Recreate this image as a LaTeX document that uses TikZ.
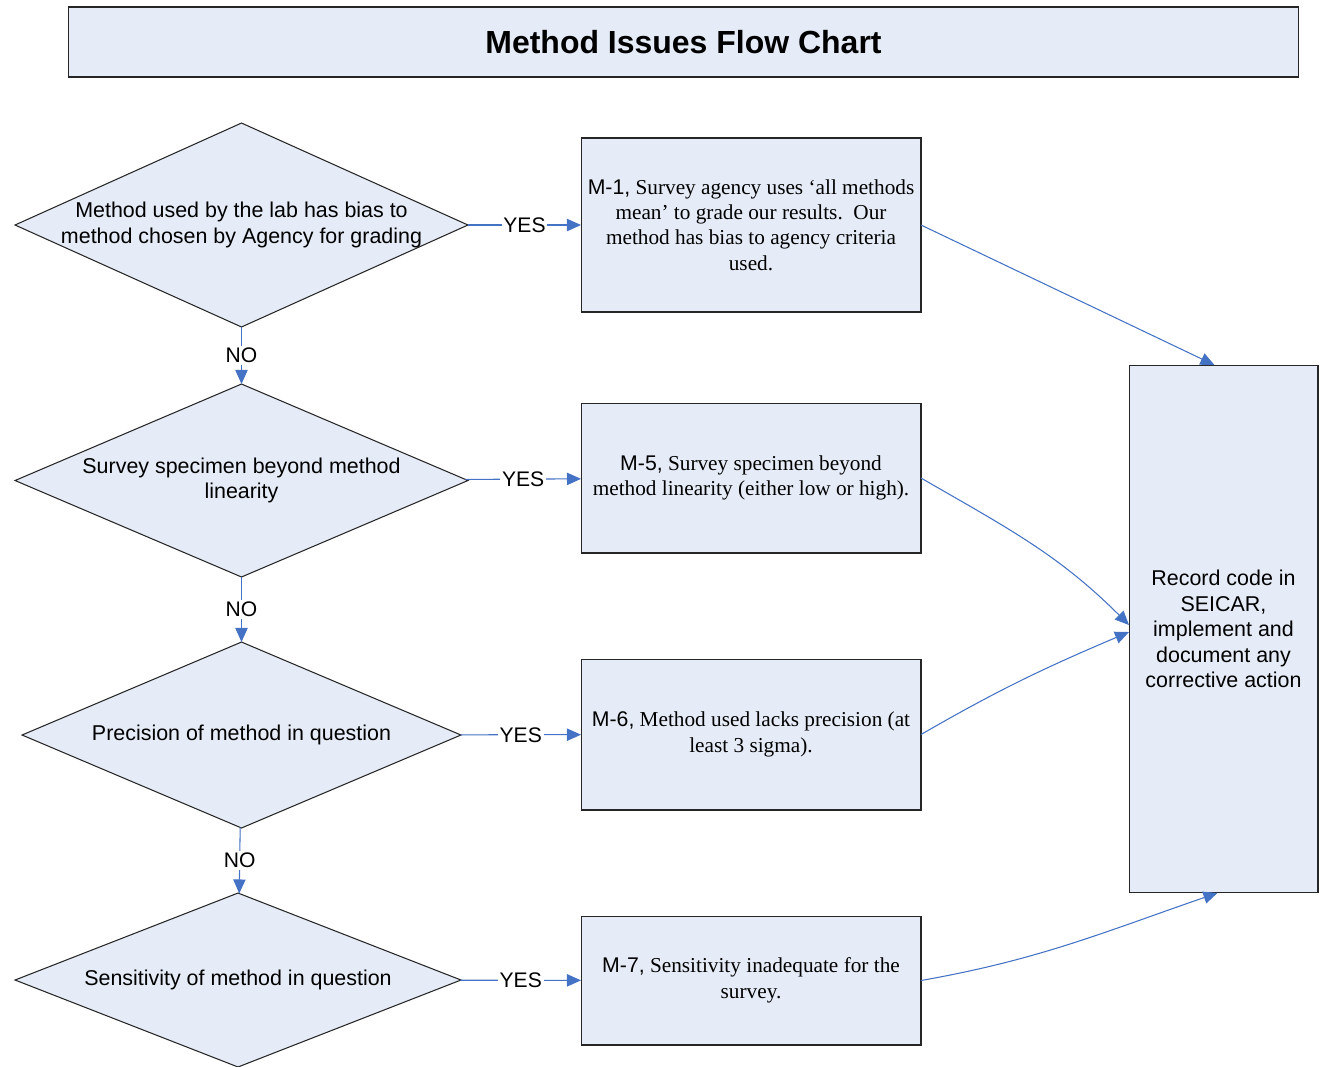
\documentclass[tikz,border=0pt]{standalone}
\usepackage{fontspec}
\setmainfont{Liberation Serif}
\setsansfont{Liberation Sans}
\usetikzlibrary{shapes.geometric,arrows.meta,calc}
\definecolor{boxfill}{RGB}{230,236,247}
\definecolor{linkblue}{RGB}{68,114,196}
\tikzset{
  question/.style={diamond,draw=black!85,fill=boxfill,line width=0.6pt,inner sep=0pt,outer sep=0pt,
    aspect=2.3,align=center,font=\sffamily\fontsize{12.2}{14.5}\selectfont},
  codebox/.style={rectangle,draw=black!85,fill=boxfill,line width=0.6pt,inner sep=0pt,outer sep=0pt,
    minimum width=6.8cm,align=center,font=\fontsize{12.1}{14.5}\selectfont},
  link/.style={draw=linkblue,line width=0.6pt,-{Triangle[length=8pt,width=7pt]}},
  answer/.style={fill=white,inner sep=1pt,font=\sffamily\fontsize{12}{13}\selectfont}
}
\begin{document}
\begin{tikzpicture}[x=0.02cm,y=0.02cm]
  \useasboundingbox (0,0) rectangle (1321,-1066);
  \node[codebox,minimum width=24.62cm,minimum height=1.4cm,
    font=\sffamily\bfseries\fontsize{18.2}{20}\selectfont] (title) at (683.5,-42) {Method Issues Flow Chart};
  % questions down the left
  \node[question,inner ysep=-4pt,minimum width=9.06cm,minimum height=4.08cm] (q1) at (241.5,-225)
    {Method used by the lab has bias to\\method chosen by Agency for grading};
  \node[question,minimum width=9.06cm,minimum height=3.86cm] (q2) at (241.5,-480.5)
    {Survey specimen beyond method\\linearity};
  \node[question,minimum width=8.78cm,minimum height=3.72cm] (q3) at (241.5,-735)
    {Precision of method in question};
  \node[question,minimum width=8.92cm,minimum height=3.48cm] (q4) at (238,-980)
    {Sensitivity of method in question};
  % codes
  \node[codebox,minimum height=3.48cm] (m1) at (751,-225)
    {{\sffamily M-1,} Survey agency uses ‘all methods\\mean’ to grade our results.\ \ Our\\method has bias to agency criteria\\used.};
  \node[codebox,minimum height=3.0cm] (m5) at (751,-478)
    {{\sffamily M-5,} Survey specimen beyond\\method linearity (either low or high).};
  \node[codebox,minimum height=3.02cm] (m6) at (751,-734.5)
    {{\sffamily M-6,} Method used lacks precision (at\\least 3 sigma).};
  \node[codebox,minimum height=2.58cm] (m7) at (751,-980.5)
    {{\sffamily M-7,} Sensitivity inadequate for the\\survey.};
  \node[codebox,minimum width=3.78cm,minimum height=10.56cm,font=\sffamily\fontsize{12.2}{14.5}\selectfont] (rec) at (1223.5,-629)
    {Record code in\\SEICAR,\\implement and\\document any\\corrective action};
  % yes / no
  \draw[link] (q1) -- node[answer] {YES} (m1);
  \draw[link] (q2) -- node[answer] {YES} (m5);
  \draw[link] (q3) -- node[answer] {YES} (m6);
  \draw[link] (q4) -- node[answer] {YES} (m7);
  \draw[link] (q1) -- node[answer] {NO} (q2);
  \draw[link] (q2) -- node[answer] {NO} (q3);
  \draw[link] (q3) -- node[answer] {NO} (q4);
  % into the record box
  \draw[link] (m1.east) -- ($(rec.north)+(-9,0)$);
  \draw[link] (m5.east) to[out=-30,in=135] ($(rec.west)+(0,4)$);
  \draw[link] (m6.east) to[out=30,in=-157] ($(rec.west)+(0,-3)$);
  \draw[link] (m7.east) to[out=10,in=-161] ($(rec.south)+(-6,0)$);
\end{tikzpicture}
\end{document}
